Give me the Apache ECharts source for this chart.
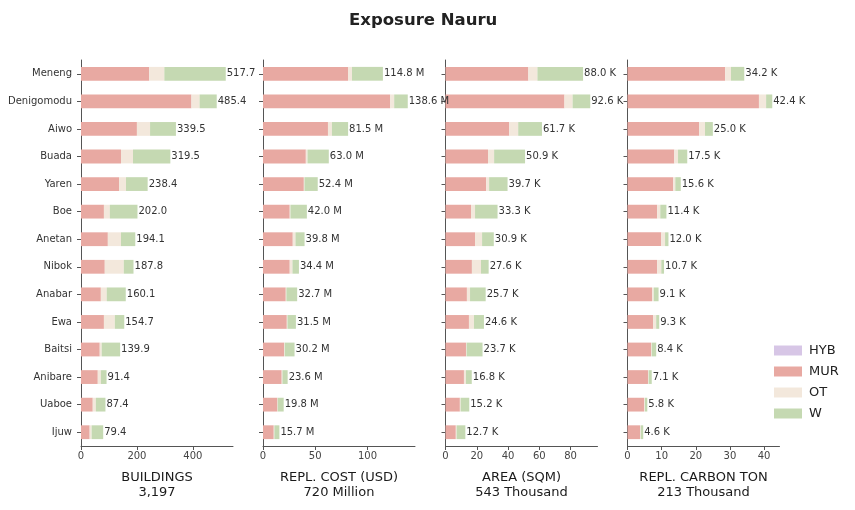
<!DOCTYPE html>
<html>
<head>
<meta charset="utf-8">
<script src="https://cdn.jsdelivr.net/npm/echarts@6/dist/echarts.min.js"></script>
<style>
  html, body { margin: 0; padding: 0; background: #fff; }
  #chart { width: 855px; height: 510px; }
</style>
</head>
<body>
<div id="chart"></div>
<script>
// categories (top to bottom)
const categories = ['Meneng', 'Denigomodu', 'Aiwo', 'Buada', 'Yaren', 'Boe', 'Anetan', 'Nibok', 'Anabar', 'Ewa', 'Baitsi', 'Anibare', 'Uaboe', 'Ijuw'];
const hybZero = [0, 0, 0, 0, 0, 0, 0, 0, 0, 0, 0, 0, 0, 0];

// BUILDINGS
const bMur = [244, 395, 200, 143, 136, 82, 96, 85, 71, 82, 67, 60, 42, 31];
const bOt = [54, 29, 47, 43, 25, 21, 47, 68, 21, 39, 7, 11, 11, 7];
const bW = [219.7, 61.4, 92.5, 133.5, 77.4, 99, 51.1, 34.8, 68.1, 33.7, 65.9, 20.4, 34.4, 41.4];
const bTotal = [517.7, 485.4, 339.5, 319.5, 238.4, 202.0, 194.1, 187.8, 160.1, 154.7, 139.9, 91.4, 87.4, 79.4];
const bTicks = [0, 200, 400];

// REPL. COST (USD), millions
const cMur = [81.4, 121.8, 62.2, 41.0, 39.1, 25.6, 28.5, 25.6, 21.8, 22.8, 20.2, 17.9, 13.8, 10.3];
const cOt = [3.8, 3.8, 3.8, 1.6, 0.6, 0.7, 2.6, 2.6, 0.6, 0.6, 0.6, 0.7, 0.3, 0.6];
const cW = [29.6, 13.0, 15.5, 20.4, 12.7, 15.7, 8.7, 6.2, 10.3, 8.1, 9.4, 5.0, 5.7, 4.8];
const cTotal = [114.8, 138.6, 81.5, 63.0, 52.4, 42.0, 39.8, 34.4, 32.7, 31.5, 30.2, 23.6, 19.8, 15.7];
const cTicks = [0, 50, 100];

// AREA (SQM), thousands
const aMur = [53.0, 76.1, 40.8, 27.2, 26.0, 16.3, 18.9, 16.9, 13.7, 15.0, 13.1, 11.8, 9.2, 6.6];
const aOt = [5.8, 5.2, 5.7, 3.9, 1.9, 2.6, 4.5, 5.8, 2.0, 3.2, 0.4, 1.3, 0.5, 0.5];
const aW = [29.2, 11.3, 15.2, 19.8, 11.8, 14.4, 7.5, 4.9, 10.0, 6.4, 10.2, 3.7, 5.5, 5.6];
const aTotal = [88.0, 92.6, 61.7, 50.9, 39.7, 33.3, 30.9, 27.6, 25.7, 24.6, 23.7, 16.8, 15.2, 12.7];
const aTicks = [0, 20, 40, 60, 80];

// REPL. CARBON TON, thousands
const kMur = [28.6, 38.5, 21.0, 13.7, 13.4, 8.7, 9.9, 8.7, 7.2, 7.5, 6.9, 6.0, 4.9, 3.7];
const kOt = [1.7, 2.1, 1.7, 1.1, 0.6, 0.9, 1.1, 1.2, 0.5, 0.9, 0.2, 0.2, 0.2, 0.2];
const kW = [3.9, 1.8, 2.3, 2.7, 1.6, 1.8, 1.0, 0.8, 1.4, 0.9, 1.3, 0.9, 0.7, 0.7];
const kTotal = [34.2, 42.4, 25.0, 17.5, 15.6, 11.4, 12.0, 10.7, 9.1, 9.3, 8.4, 7.1, 5.8, 4.6];
const kTicks = [0, 10, 20, 30, 40];

const panelNames = ['BUILDINGS\n3,197', 'REPL. COST (USD)\n720 Million', 'AREA (SQM)\n543 Thousand', 'REPL. CARBON TON\n213 Thousand'];
const colors = { HYB: '#d7c6e6', MUR: '#e8a9a2', OT: '#f3e8dc', W: '#c5d9b2' };

const panels = [
  { left: 81, mur: bMur, ot: bOt, w: bW, total: bTotal, ticks: bTicks, suffix: '' },
  { left: 263, mur: cMur, ot: cOt, w: cW, total: cTotal, ticks: cTicks, suffix: ' M' },
  { left: 445.5, mur: aMur, ot: aOt, w: aW, total: aTotal, ticks: aTicks, suffix: ' K' },
  { left: 627.5, mur: kMur, ot: kOt, w: kW, total: kTotal, ticks: kTicks, suffix: ' K' }
];

const axisColor = '#555';
let grid = [], xAxis = [], yAxis = [], series = [];

panels.forEach(function (p, i) {
  grid.push({ left: p.left, width: 152, top: 60, height: 386 });
  xAxis.push({
    gridIndex: i,
    type: 'value',
    min: 0,
    max: Math.max.apply(null, p.total) * 1.05,
    name: panelNames[i],
    nameLocation: 'middle',
    nameGap: 24,
    nameTextStyle: { fontSize: 13, lineHeight: 15, color: '#1a1a1a', fontFamily: 'DejaVu Sans' },
    splitLine: { show: false },
    axisLine: { show: true, lineStyle: { color: axisColor, width: 1 } },
    axisTick: { show: true, length: 4, lineStyle: { color: axisColor }, customValues: p.ticks },
    axisLabel: { fontSize: 10, color: '#444', margin: 5, fontFamily: 'DejaVu Sans', customValues: p.ticks }
  });
  yAxis.push({
    gridIndex: i,
    type: 'category',
    inverse: true,
    data: categories,
    axisLine: { show: true, lineStyle: { color: axisColor, width: 1 } },
    axisTick: { show: true, length: 4, alignWithLabel: true, lineStyle: { color: axisColor } },
    axisLabel: { show: i === 0, fontSize: 10, color: '#333', margin: 9, fontFamily: 'DejaVu Sans' }
  });
  const stack = 's' + i;
  const base = { type: 'bar', stack: stack, xAxisIndex: i, yAxisIndex: i, barWidth: '50%' };
  series.push(Object.assign({}, base, { name: 'HYB', data: hybZero, itemStyle: { color: colors.HYB } }));
  series.push(Object.assign({}, base, { name: 'MUR', data: p.mur, itemStyle: { color: colors.MUR } }));
  series.push(Object.assign({}, base, { name: 'OT', data: p.ot, itemStyle: { color: colors.OT } }));
  series.push(Object.assign({}, base, {
    name: 'W', data: p.w, itemStyle: { color: colors.W },
    label: {
      show: true, position: 'right', distance: 1,
      fontSize: 10, color: '#333', fontFamily: 'DejaVu Sans',
      formatter: function (d) { return p.total[d.dataIndex].toFixed(1) + p.suffix; }
    }
  }));
});

let myChart = echarts.init(document.getElementById('chart'));
myChart.setOption({
  animation: false,
  title: {
    text: 'Exposure Nauru',
    left: 344, top: 7,
    textStyle: { fontSize: 16.5, fontWeight: 'bold', color: '#222', fontFamily: 'DejaVu Sans' }
  },
  legend: {
    data: ['HYB', 'MUR', 'OT', 'W'],
    orient: 'vertical',
    left: 769, top: 339,
    icon: 'rect',
    itemWidth: 28, itemHeight: 10,
    itemGap: 8,
    textStyle: { fontSize: 13, color: '#222', fontFamily: 'DejaVu Sans', padding: [0, 0, 0, 2] }
  },
  grid: grid,
  xAxis: xAxis,
  yAxis: yAxis,
  series: series
});
</script>
</body>
</html>
